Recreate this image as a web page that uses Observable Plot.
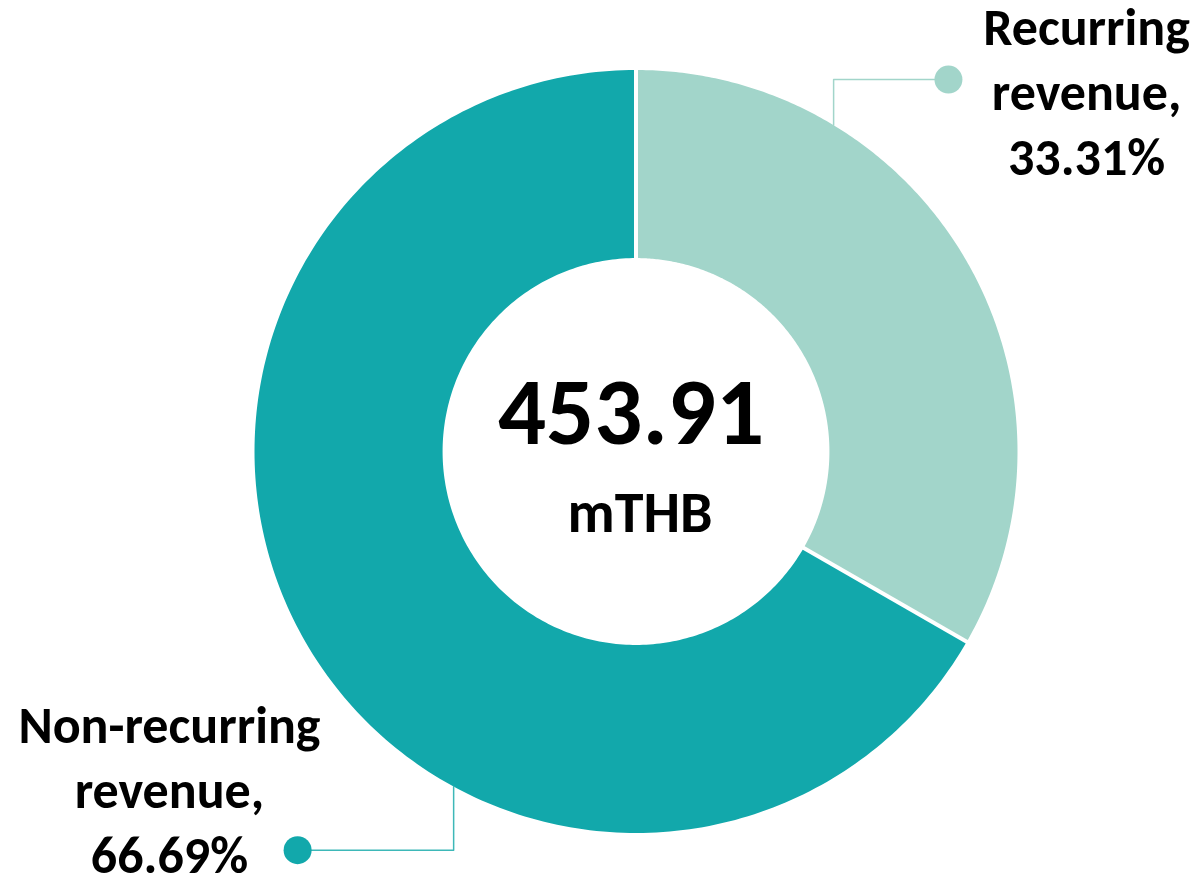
<!DOCTYPE html>
<html>
<head>
<meta charset="utf-8">
<script src="https://cdn.jsdelivr.net/npm/d3@7"></script>
<script src="https://cdn.jsdelivr.net/npm/@observablehq/plot@0.6"></script>
<style>
  html, body { margin: 0; padding: 0; background: #fff; }
  #chart svg { display: block; }
</style>
</head>
<body>
<div id="chart"></div>
<script>
// ---- data ----
const categories = ["Recurring revenue", "Non-recurring revenue"];
const shares = [33.31, 66.69];
const labelLines = [["Recurring", "revenue,", "33.31%"], ["Non-recurring", "revenue,", "66.69%"]];
const total = "453.91";
const unit = "mTHB";
const colors = ["#A2D5CA", "#12A8AB"];
const leaderColors = ["#A2D5CA", "#3DB8B8"];

// ---- layout (in units of the outer radius, centre at 0,0) ----
const innerR = 0.507;
const leaderX = [0.518, -0.478];     // where the leader leaves the ring
const leaderY = [0.975, -1.045];     // height of the horizontal part
const dotX = [0.819, -0.887];
const labelPos = [[1.181, 0.7235], [-1.223, -1.104]];

// ---- geometry ----
const pie = d3.pie().sort(null).value(d => d)(shares);
const slices = [];
pie.forEach((p, i) => {
  const n = 240;
  const pts = [];
  for (let k = 0; k <= n; k++) {
    const a = p.startAngle + (p.endAngle - p.startAngle) * k / n;
    pts.push({name: categories[i], x: Math.sin(a), y: Math.cos(a)});
  }
  for (let k = n; k >= 0; k--) {
    const a = p.startAngle + (p.endAngle - p.startAngle) * k / n;
    pts.push({name: categories[i], x: innerR * Math.sin(a), y: innerR * Math.cos(a)});
  }
  slices.push(...pts);
});
const separators = pie.map(p => ({
  x1: innerR * Math.sin(p.startAngle) * 0.98, y1: innerR * Math.cos(p.startAngle) * 0.98,
  x2: Math.sin(p.startAngle) * 1.02, y2: Math.cos(p.startAngle) * 1.02
}));
const leaders = [];
categories.forEach((c, i) => {
  const ys = Math.sign(leaderY[i]) * Math.sqrt(1 - leaderX[i] * leaderX[i]);
  leaders.push({name: c, x: leaderX[i], y: ys});
  leaders.push({name: c, x: leaderX[i], y: leaderY[i]});
  leaders.push({name: c, x: dotX[i], y: leaderY[i]});
});
const dots = categories.map((c, i) => ({name: c, x: dotX[i], y: leaderY[i]}));
const labels = categories.map((c, i) => ({name: c, x: labelPos[i][0], y: labelPos[i][1], text: labelLines[i].join("\n")}));

const font = "Carlito, Calibri, Lato, sans-serif";
const chart = Plot.plot({
  width: 1197,
  height: 878,
  margin: 0,
  x: {domain: [-1, 1], range: [254, 1017], axis: null},
  y: {domain: [-1, 1], range: [832.5, 69.5], axis: null},
  color: {domain: categories, range: colors},
  style: {fontFamily: font, background: "#fff", overflow: "visible"},
  marks: [
    Plot.line(slices, {x: "x", y: "y", z: "name", fill: "name", stroke: "none", curve: "linear-closed"}),
    Plot.link(separators, {x1: "x1", y1: "y1", x2: "x2", y2: "y2", stroke: "#fff", strokeWidth: 4}),
    Plot.line(leaders, {x: "x", y: "y", z: "name", stroke: d => leaderColors[categories.indexOf(d.name)], strokeWidth: 1.5}),
    Plot.dot(dots, {x: "x", y: "y", r: 14, fill: "name", stroke: "none"}),
    Plot.text(labels, {x: "x", y: "y", text: "text", fontSize: 52, fontWeight: "bold", lineHeight: 1.25, lineAnchor: "bottom", textAnchor: "middle", fill: "#000"}),
    Plot.text([total], {x: [0], y: [0.0197], text: d => d, fontSize: 95, fontWeight: "bold", lineAnchor: "bottom", textAnchor: "middle", fill: "#000", dx: -5}),
    Plot.text([unit], {x: [0], y: [-0.2097], text: d => d, fontSize: 58, fontWeight: "bold", lineAnchor: "bottom", textAnchor: "middle", fill: "#000", dx: 4})
  ]
});
document.getElementById("chart").appendChild(chart);
</script>
</body>
</html>
